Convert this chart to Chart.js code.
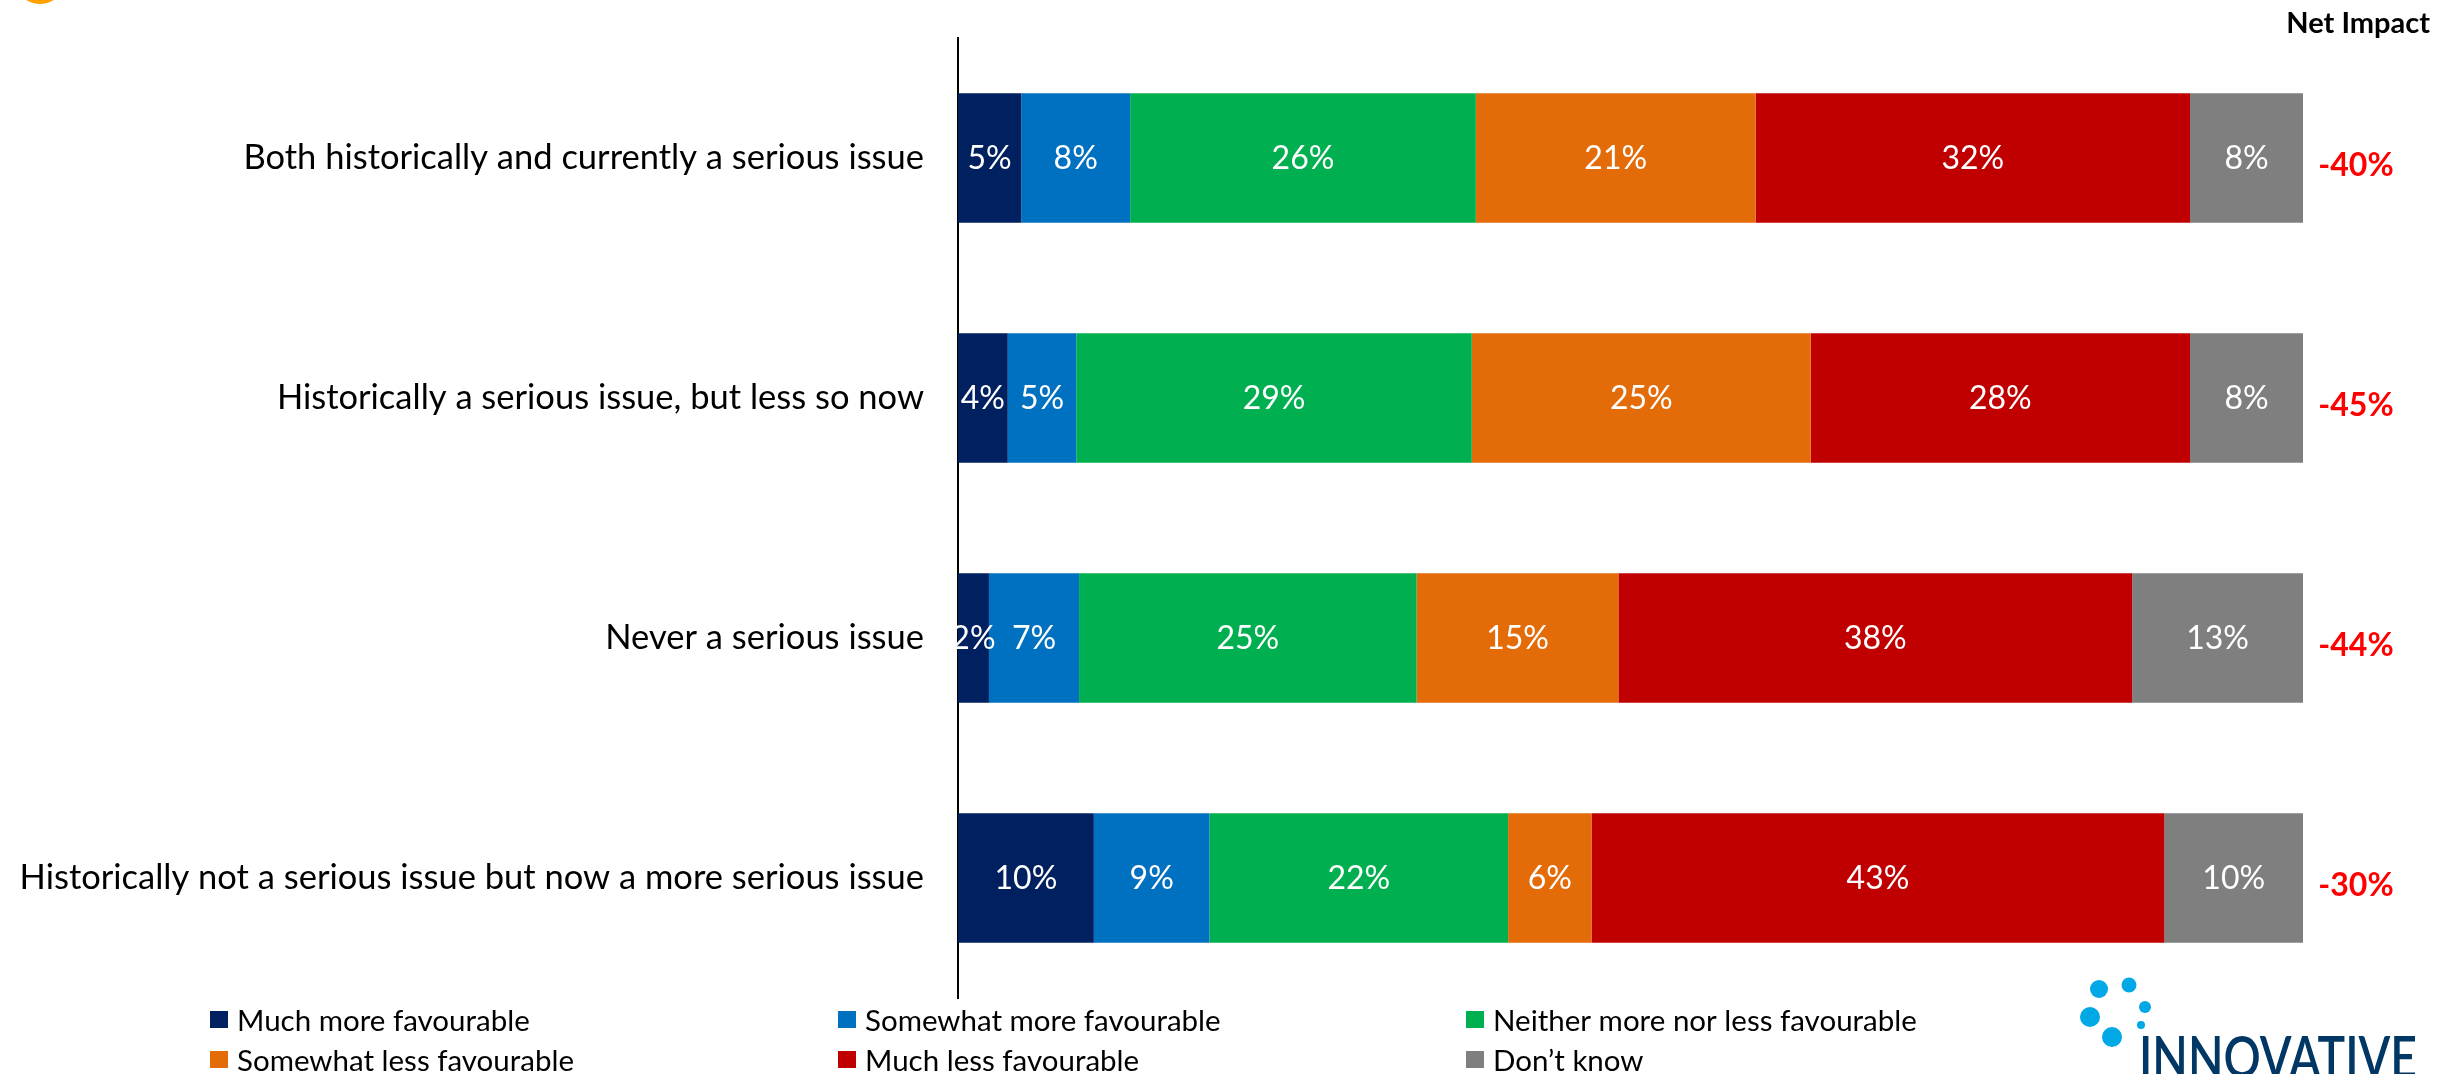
<!DOCTYPE html>
<html>
<head>
<meta charset="utf-8">
<script src="https://cdn.jsdelivr.net/npm/chart.js@4.4.0/dist/chart.umd.min.js"></script>
<style>
  body { margin: 0; background: #fff; }
</style>
</head>
<body>
<canvas id="impact-chart" width="2446" height="1074"></canvas>
<script>
const categories = [
  "Both historically and currently a serious issue",
  "Historically a serious issue, but less so now",
  "Never a serious issue",
  "Historically not a serious issue but now a more serious issue"
];
const seriesNames = [
  "Much more favourable",
  "Somewhat more favourable",
  "Neither more nor less favourable",
  "Somewhat less favourable",
  "Much less favourable",
  "Don\u2019t know"
];
const seriesColors = ["#002060", "#0070C0", "#00B050", "#E36C09", "#C00000", "#7F7F7F"];

// shares in percent (labels show rounded values)
const muchMore     = [4.7, 3.7, 2.3, 10.1];
const somewhatMore = [8.1, 5.1, 6.7, 8.6];
const neither      = [25.7, 29.4, 25.1, 22.2];
const somewhatLess = [20.8, 25.2, 15.0, 6.2];
const muchLess     = [32.3, 28.2, 38.2, 42.6];
const dontKnow     = [8.4, 8.4, 12.7, 10.3];
const netImpact    = [-40, -45, -44, -30];

const seriesValues = [muchMore, somewhatMore, neither, somewhatLess, muchLess, dontKnow];
const FONT = "Lato";

const barLabels = {
  id: "barLabels",
  afterDatasetsDraw(chart) {
    const ctx = chart.ctx;
    ctx.save();
    ctx.fillStyle = "#fff";
    ctx.font = "32px " + FONT;
    ctx.textAlign = "center";
    ctx.textBaseline = "middle";
    chart.data.datasets.forEach((ds, di) => {
      chart.getDatasetMeta(di).data.forEach((bar, i) => {
        const p = bar.getProps(["x", "y", "base"], true);
        ctx.fillText(Math.round(ds.data[i]) + "%", (p.x + p.base) / 2, p.y + 1);
      });
    });
    ctx.restore();
  }
};

const extras = {
  id: "extras",
  afterDraw(chart) {
    const ctx = chart.ctx;
    const area = chart.chartArea;
    const yScale = chart.scales.y;
    ctx.save();

    // net impact column
    ctx.fillStyle = "#000";
    ctx.font = "bold 29px " + FONT;
    ctx.textAlign = "right";
    ctx.textBaseline = "middle";
    ctx.fillText("Net Impact", 2430, 24);
    ctx.fillStyle = "#FF0000";
    ctx.font = "bold 32px " + FONT;
    ctx.textAlign = "center";
    netImpact.forEach((v, i) => {
      ctx.fillText(v + "%", area.right + 53, yScale.getPixelForValue(i) + 8);
    });

    // legend grid
    const cols = [210, 838, 1466];
    const rows = [1020, 1060];
    ctx.font = "29.5px " + FONT;
    ctx.textAlign = "left";
    ctx.textBaseline = "middle";
    seriesNames.forEach((name, i) => {
      const x = cols[i % 3];
      const y = rows[Math.floor(i / 3)];
      ctx.fillStyle = seriesColors[i];
      ctx.fillRect(x, y - 9, 18, 17);
      ctx.fillStyle = "#000";
      ctx.fillText(name, x + 27, y + 1);
    });

    // cropped title mark top-left
    ctx.fillStyle = "#FFA000";
    ctx.beginPath();
    ctx.arc(40, -22, 26, 0, Math.PI * 2);
    ctx.fill();

    // logo
    ctx.fillStyle = "#00A9E6";
    [[2099, 989, 9], [2129, 985, 7.5], [2090, 1017, 10], [2145, 1007, 6], [2112, 1037, 10], [2141, 1025, 4]].forEach(c => {
      ctx.beginPath();
      ctx.arc(c[0], c[1], c[2], 0, Math.PI * 2);
      ctx.fill();
    });
    ctx.fillStyle = "#003764";
    ctx.font = "600 58px " + FONT;
    ctx.textBaseline = "alphabetic";
    const w = ctx.measureText("INNOVATIVE").width;
    ctx.translate(2139, 1078);
    ctx.scale(278 / w, 1);
    ctx.fillText("INNOVATIVE", 0, 0);
    ctx.restore();
  }
};

new Chart(document.getElementById("impact-chart"), {
  type: "bar",
  data: {
    labels: categories,
    datasets: seriesNames.map((name, i) => ({
      label: name,
      data: seriesValues[i],
      backgroundColor: seriesColors[i],
      borderWidth: 0,
      barPercentage: 1,
      categoryPercentage: 0.54
    }))
  },
  options: {
    indexAxis: "y",
    responsive: false,
    animation: false,
    layout: { padding: { top: 38, right: 143, bottom: 76, left: 0 } },
    plugins: {
      legend: { display: false },
      tooltip: { enabled: false }
    },
    scales: {
      x: {
        stacked: true,
        min: 0,
        max: 100,
        display: false
      },
      y: {
        stacked: true,
        grid: { display: false },
        border: { display: true, color: "#000", width: 2 },
        afterFit(scale) {
          scale.width = 958;
          scale.paddingTop = 0;
          scale.paddingBottom = 0;
        },
        ticks: {
          color: "#000",
          padding: 26,
          font: { family: FONT, size: 34.5 }
        }
      }
    }
  },
  plugins: [barLabels, extras]
});
</script>
</body>
</html>
